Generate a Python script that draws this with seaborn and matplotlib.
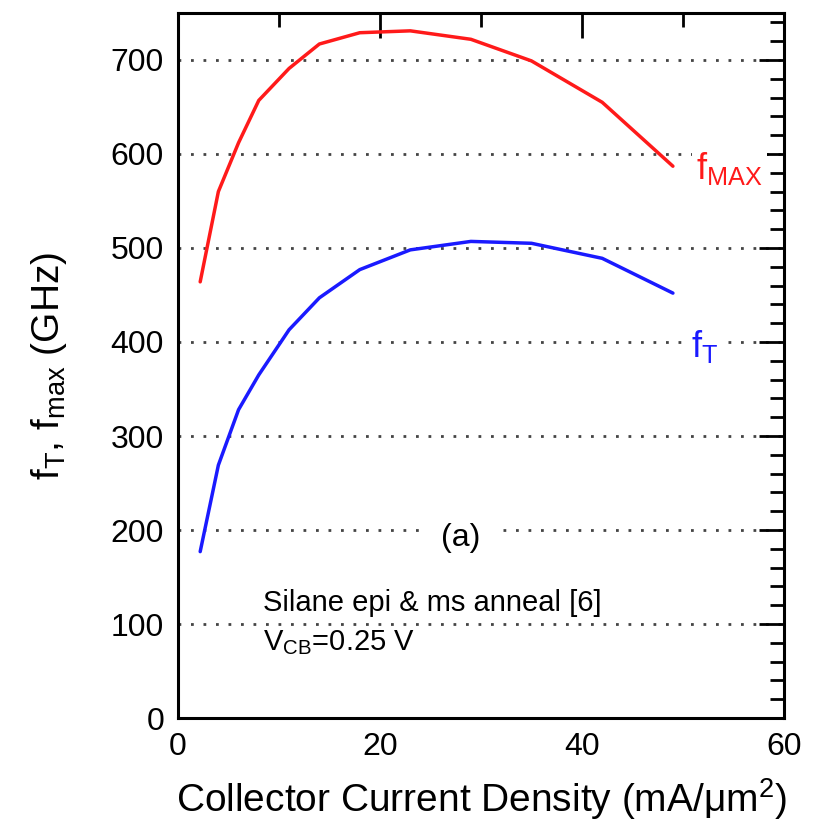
import matplotlib
matplotlib.use("Agg")
import matplotlib.pyplot as plt
from matplotlib.ticker import MultipleLocator
import seaborn as sns
import pandas as pd

# current density (mA/um^2) and measured fT / fmax (GHz)
current_density = [2.2, 4, 6, 8, 11, 14, 18, 23, 29, 35, 42, 49]
fmax_ghz = [464, 560, 612, 657, 691, 717, 729, 731, 722, 699, 655, 587]
ft_ghz = [177, 269, 328, 365, 413, 447, 477, 498, 507, 505, 489, 452]

df = pd.DataFrame({"J": current_density, "fmax": fmax_ghz, "ft": ft_ghz})

sns.set_style("white")
plt.rcParams['font.family'] = ['Liberation Sans', 'DejaVu Sans']
plt.rcParams['mathtext.fontset'] = 'custom'
plt.rcParams['mathtext.rm'] = 'Liberation Sans'
plt.rcParams['mathtext.it'] = 'Liberation Sans'
plt.rcParams['text.color'] = 'black'
plt.rcParams['axes.labelcolor'] = 'black'

fig = plt.figure(figsize=(8.22, 8.32), dpi=100)
ax = fig.add_axes([0.2165, 0.137, 0.7373, 0.8474])

sns.lineplot(data=df, x="J", y="fmax", color="#ff1a1a", linewidth=2.5, ax=ax)
sns.lineplot(data=df, x="J", y="ft", color="#1a1aff", linewidth=2.5, ax=ax)

ax.set_xlim(0, 60)
ax.set_ylim(0, 750)
ax.xaxis.set_major_locator(MultipleLocator(20))
ax.xaxis.set_minor_locator(MultipleLocator(10))
ax.yaxis.set_major_locator(MultipleLocator(100))
ax.yaxis.set_minor_locator(MultipleLocator(20))
ax.tick_params(which="both", direction="in", top=True, right=True, width=2, colors="black", labelsize=23)
ax.tick_params(which="major", length=18, pad=10)
ax.tick_params(which="minor", length=10)
for s in ax.spines.values():
    s.set_linewidth(2.2)
    s.set_color("black")
ax.yaxis.grid(True, which="major", linestyle=(0, (1, 3.5)), color="#444444", linewidth=2)
ax.set_axisbelow(True)

ax.set_xlabel("Collector Current Density (mA/\u03bcm$^{2}$)", fontsize=28, labelpad=10)
ax.set_ylabel("f$_{T}$, f$_{max}$ (GHz)", fontsize=28, labelpad=30)

ax.text(28, 191, "(a)", fontsize=23, ha="center", va="center",
        bbox=dict(facecolor="white", edgecolor="none", pad=10))
ax.text(8.4, 122, "Silane epi & ms anneal [6]", fontsize=21, ha="left", va="center")
ax.text(8.4, 80, "V$_{CB}$=0.25 V", fontsize=21, ha="left", va="center")
ax.text(51.3, 585, "f$_{MAX}$", fontsize=26, color="#ff1a1a", ha="left", va="center",
        bbox=dict(facecolor="white", edgecolor="none", pad=3))
ax.text(50.8, 395, "f$_{T}$", fontsize=26, color="#1a1aff", ha="left", va="center",
        bbox=dict(facecolor="white", edgecolor="none", pad=2))

fig.savefig("out.png", dpi=100)
